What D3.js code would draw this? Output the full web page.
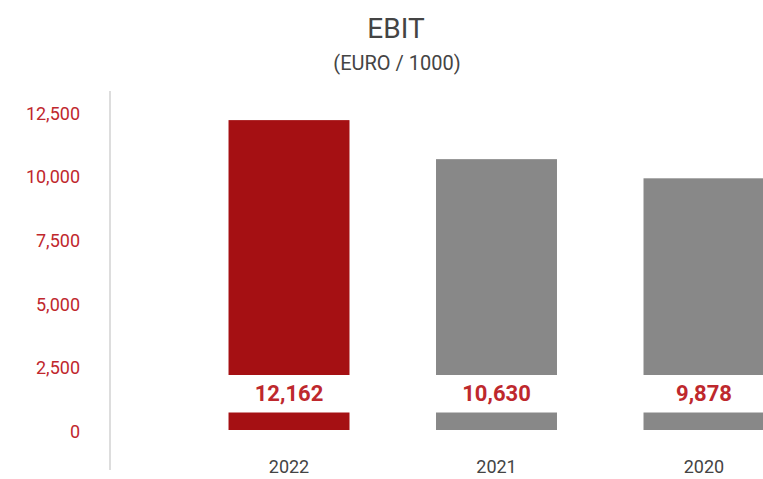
<!DOCTYPE html>
<html>
<head>
<meta charset="utf-8">
<script src="https://cdn.jsdelivr.net/npm/d3@7"></script>
<style>
  body { margin: 0; background: #fff; }
  svg text { font-family: Roboto, "Noto Sans", sans-serif; }
</style>
</head>
<body>
<div id="chart"></div>
<script>
// data
var years = ["2022", "2021", "2020"];
var ebit = [12162, 10630, 9878];
var tickValues = [0, 2500, 5000, 7500, 10000, 12500];
var barColors = ["#a51013", "#888888", "#888888"];

var width = 763,
    height = 479;

var svg = d3.select("#chart")
  .append("svg")
    .attr("width", width)
    .attr("height", height);

var x = d3.scaleBand()
    .domain(years)
    .range([142, 851])
    .paddingInner(0.417)
    .paddingOuter(0.417);

var y = d3.scaleLinear()
    .domain([0, 12500])
    .range([430, 111.5]);

// title
svg.append("text")
    .attr("x", 396)
    .attr("y", 38)
    .attr("text-anchor", "middle")
    .style("font-size", "28px")
    .style("fill", "#444")
    .text("EBIT");

svg.append("text")
    .attr("x", 397)
    .attr("y", 69.5)
    .attr("text-anchor", "middle")
    .style("font-size", "20px")
    .style("fill", "#444")
    .text("(EURO / 1000)");

// axis line
svg.append("line")
    .attr("x1", 110).attr("x2", 110)
    .attr("y1", 91).attr("y2", 470)
    .attr("stroke", "#dddddd")
    .attr("stroke-width", 2);

// y tick labels
svg.selectAll("text.ytick")
  .data(tickValues)
  .enter()
  .append("text")
    .attr("class", "ytick")
    .attr("x", 80)
    .attr("y", function(d){ return y(d); })
    .attr("dy", "0.45em")
    .attr("text-anchor", "end")
    .style("font-size", "18px")
    .style("fill", "#c0272d")
    .text(function(d){ return d3.format(",")(d); });

// bars
var data = years.map(function(yr, i){ return {year: yr, value: ebit[i], color: barColors[i]}; });

svg.selectAll("rect.bar")
  .data(data)
  .enter()
  .append("rect")
    .attr("class", "bar")
    .attr("x", function(d){ return x(d.year); })
    .attr("width", x.bandwidth())
    .attr("y", function(d){ return y(d.value); })
    .attr("height", function(d){ return y(0) - y(d.value); })
    .attr("fill", function(d){ return d.color; });

// white gap for the value label
svg.selectAll("rect.gap")
  .data(data)
  .enter()
  .append("rect")
    .attr("class", "gap")
    .attr("x", function(d){ return x(d.year) - 1; })
    .attr("width", x.bandwidth() + 2)
    .attr("y", 375)
    .attr("height", 37.5)
    .attr("fill", "#fff");

svg.selectAll("text.val")
  .data(data)
  .enter()
  .append("text")
    .attr("class", "val")
    .attr("x", function(d){ return x(d.year) + x.bandwidth() / 2; })
    .attr("y", 393)
    .attr("dy", "0.35em")
    .attr("text-anchor", "middle")
    .style("font-size", "22px")
    .style("font-weight", "bold")
    .style("fill", "#be282d")
    .text(function(d){ return d3.format(",")(d.value); });

// year labels
svg.selectAll("text.year")
  .data(data)
  .enter()
  .append("text")
    .attr("class", "year")
    .attr("x", function(d){ return x(d.year) + x.bandwidth() / 2; })
    .attr("y", 467)
    .attr("dy", "0.35em")
    .attr("text-anchor", "middle")
    .style("font-size", "18px")
    .style("fill", "#444")
    .text(function(d){ return d.year; });
</script>
</body>
</html>
